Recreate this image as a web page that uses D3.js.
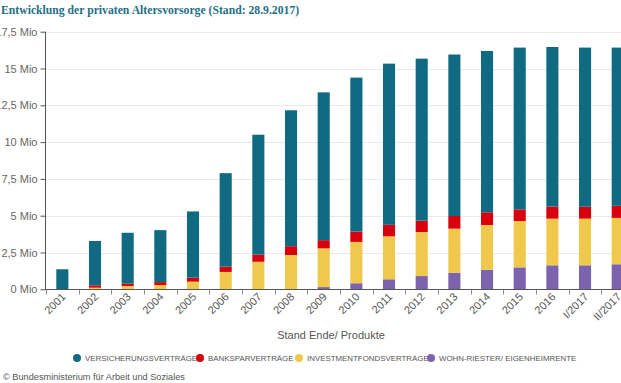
<!DOCTYPE html>
<html><head><meta charset="utf-8">
<script src="https://cdn.jsdelivr.net/npm/d3@7"></script>
<style>body{margin:0;background:#fff;overflow:hidden}svg{display:block}</style>
</head><body><svg id="c" width="621" height="383"></svg>
<script>
const categories = ["2001","2002","2003","2004","2005","2006","2007","2008","2009","2010","2011","2012","2013","2014","2015","2016","I/2017","II/2017"];
// values in millions of contracts
const versicherung = [1.36,3.01,3.46,3.53,4.50,6.35,8.15,9.23,10.04,10.46,10.95,11.01,10.97,10.96,10.99,10.84,10.81,10.75];
const banksparen   = [0,0.16,0.16,0.20,0.27,0.36,0.48,0.60,0.56,0.70,0.78,0.77,0.86,0.86,0.79,0.82,0.81,0.82];
const investment   = [0,0.11,0.22,0.29,0.52,1.18,1.87,2.33,2.63,2.81,2.92,2.99,2.99,3.04,3.15,3.17,3.17,3.15];
const wohnRiester  = [0,0,0,0,0,0,0,0,0.15,0.41,0.68,0.90,1.13,1.33,1.49,1.63,1.63,1.70];
const yTicks = [0,2.5,5,7.5,10,12.5,15,17.5];
const seriesNames = ["VERSICHERUNGSVERTRÄGE","BANKSPARVERTRÄGE","INVESTMENTFONDSVERTRÄGE","WOHN-RIESTER/ EIGENHEIMRENTE"];
const seriesColors = ["#0f6a82","#d9000d","#f0c84c","#7b63ae"];

const svg = d3.select("#c");
const fmt = v => String(v).replace(".", ",") + " Mio";

const step = 32.67;
const x = d3.scaleBand().domain(categories).range([46, 46 + step*categories.length]).paddingInner(0.63).paddingOuter(0.315);
const y = d3.scaleLinear().domain([0,17.5]).range([289.3, 31.7]);

// title
svg.append("text").attr("x",1).attr("y",14)
  .attr("font-family","'Liberation Serif', 'Times New Roman', serif")
  .attr("font-weight","bold").attr("font-size",11.7).attr("fill","#1e6f86")
  .text("Entwicklung der privaten Altersvorsorge (Stand: 28.9.2017)");

// gridlines
svg.append("g").selectAll("line").data(yTicks.slice(1)).join("line")
  .attr("x1",46).attr("x2",621).attr("y1",d=>Math.round(y(d))+0.5).attr("y2",d=>Math.round(y(d))+0.5)
  .attr("stroke","#e9e9e9").attr("stroke-width",1);

// stacked data
const rows = categories.map((c,i)=>({cat:c, w:wohnRiester[i], inv:investment[i], bank:banksparen[i], vers:versicherung[i]}));
const stacked = d3.stack().keys(["w","inv","bank","vers"])(rows);
const keyColor = {w:seriesColors[3], inv:seriesColors[2], bank:seriesColors[1], vers:seriesColors[0]};
svg.append("g").selectAll("g").data(stacked).join("g").attr("fill",d=>keyColor[d.key])
  .selectAll("rect").data(d=>d).join("rect")
  .attr("x",d=>x(d.data.cat)).attr("width",x.bandwidth())
  .attr("y",d=>y(d[1])).attr("height",d=>Math.max(0,y(d[0])-y(d[1])));

// y axis
const yAxis = d3.axisLeft(y).tickValues(yTicks).tickFormat(fmt).tickSize(5).tickPadding(3);
const gy = svg.append("g").attr("transform","translate(45.5,0)").call(yAxis);
gy.select(".domain").attr("stroke","#555").attr("d", `M-0,${y(17.5)}V${y(0)}`);
gy.selectAll(".tick line").attr("stroke","#555");
gy.selectAll(".tick text").attr("fill","#666").attr("font-size",11).attr("font-family","'Liberation Sans', Arial, sans-serif");

// x axis
const gx = svg.append("g").attr("transform",`translate(0,${y(0)+0.2})`);
gx.append("line").attr("x1",45).attr("x2",621).attr("stroke","#555");
const bounds = d3.range(categories.length+1).map(i=> x.range()[0] + i*x.step());
gx.selectAll(".tk").data(bounds).join("line").attr("class","tk")
  .attr("x1",d=>Math.round(d)+0.5).attr("x2",d=>Math.round(d)+0.5).attr("y1",0).attr("y2",5).attr("stroke","#888");
gx.selectAll(".lbl").data(categories).join("text").attr("class","lbl")
  .attr("transform",d=>`translate(${x(d)+x.bandwidth()/2+4},8) rotate(-45)`)
  .attr("text-anchor","end").attr("font-size",11).attr("fill","#555")
  .attr("font-family","'Liberation Sans', Arial, sans-serif").text(d=>d);

// axis title
svg.append("text").attr("x",331).attr("y",339).attr("text-anchor","middle")
  .attr("font-size",11).attr("fill","#555").attr("font-family","'Liberation Sans', Arial, sans-serif")
  .text("Stand Ende/ Produkte");

// legend
const legX = [77,200,299,431];
const lg = svg.append("g").selectAll("g").data(seriesNames).join("g")
  .attr("transform",(d,i)=>`translate(${legX[i]},358)`);
lg.append("circle").attr("r",4).attr("fill",(d,i)=>seriesColors[i]);
lg.append("text").attr("x",8).attr("y",3).attr("font-size",7.9).attr("fill","#555")
  .attr("font-family","'Liberation Sans', Arial, sans-serif").text(d=>d);

// credits
svg.append("text").attr("x",3).attr("y",380).attr("font-size",9.2).attr("fill","#555")
  .attr("font-family","'Liberation Sans', Arial, sans-serif")
  .text("© Bundesministerium für Arbeit und Soziales");
</script></body></html>
